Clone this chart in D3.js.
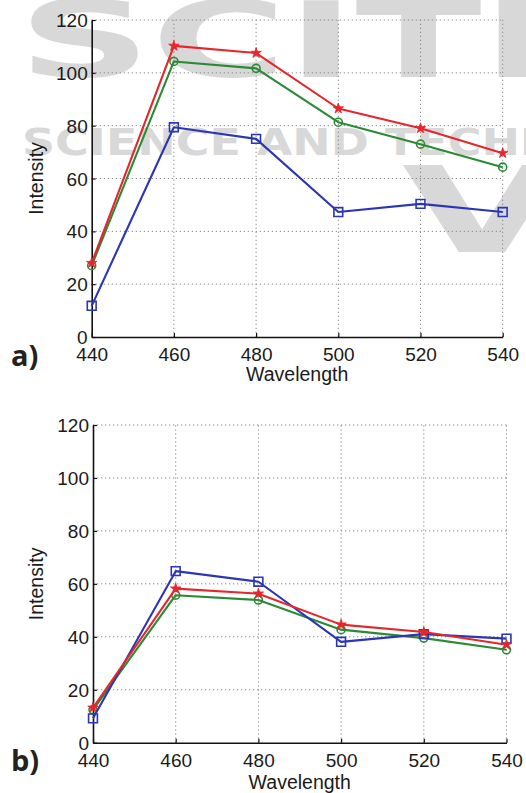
<!DOCTYPE html>
<html>
<head>
<meta charset="utf-8">
<script src="https://cdn.jsdelivr.net/npm/d3@7"></script>
<style>
  html, body { margin: 0; padding: 0; background: #fff; }
  svg { display: block; }
  text { font-family: "Liberation Sans", Arial, sans-serif; }
</style>
</head>
<body>
<div id="chart"></div>
<script>
// Data
const wavelengths = [440, 460, 480, 500, 520, 540];
const xTicks = [440, 460, 480, 500, 520, 540];
const yTicks = [0, 20, 40, 60, 80, 100, 120];

// panel a
const redA   = [28, 110.2, 107.5, 86.5, 79, 69.6];
const greenA = [27, 104.3, 101.7, 81.3, 73, 64.3];
const blueA  = [11.8, 79.4, 75, 47.3, 50.4, 47.3];

// panel b
const redB   = [13.2, 58.2, 56.3, 44.6, 41.8, 37];
const greenB = [12.4, 55.7, 53.9, 42.7, 39.5, 35.1];
const blueB  = [9.2, 64.8, 60.8, 38.1, 41, 39.3];

const colors = { red: "#e5262c", green: "#2b8a34", blue: "#2a36b4" };

const W = 526, H = 793;

const svg = d3.select("#chart")
    .append("svg")
    .attr("width", W)
    .attr("height", H);

// Watermark behind the top panel
const wm = svg.append("g").attr("fill", "#d8d8d8");
wm.append("text")
    .attr("x", 18).attr("y", 77)
    .attr("textLength", 590).attr("lengthAdjust", "spacingAndGlyphs")
    .style("font-family", "DejaVu Sans").style("font-weight", "bold")
    .style("font-size", "106px")
    .text("SCITE");
wm.append("text")
    .attr("x", 22).attr("y", 155)
    .attr("textLength", 712).attr("lengthAdjust", "spacingAndGlyphs")
    .style("font-family", "DejaVu Sans").style("font-weight", "bold")
    .style("font-size", "37px")
    .text("SCIENCE AND TECHNOLOGY");
wm.append("text")
    .attr("x", 402).attr("y", 252)
    .attr("textLength", 160).attr("lengthAdjust", "spacingAndGlyphs")
    .style("font-family", "DejaVu Sans").style("font-weight", "bold")
    .style("font-size", "120px")
    .text("V");

// Draw one panel
function drawPanel(cfg) {
    const x = d3.scaleLinear().domain([440, 540]).range([cfg.left, cfg.right]);
    const y = d3.scaleLinear().domain([0, 120]).range([cfg.bottom, cfg.top]);

    const g = svg.append("g");

    // grid
    g.append("g")
        .selectAll("line")
        .data(xTicks.slice(1))
        .join("line")
        .attr("x1", d => x(d)).attr("x2", d => x(d))
        .attr("y1", y(0)).attr("y2", y(120))
        .attr("stroke", "#8a8a8a").attr("stroke-width", 1)
        .attr("stroke-dasharray", "1.3,2.7");
    g.append("g")
        .selectAll("line")
        .data(yTicks.slice(1))
        .join("line")
        .attr("x1", x(440)).attr("x2", x(540))
        .attr("y1", d => y(d)).attr("y2", d => y(d))
        .attr("stroke", "#8a8a8a").attr("stroke-width", 1)
        .attr("stroke-dasharray", "1.3,2.7");

    // axes (inward ticks)
    const xAxis = g.append("g")
        .attr("transform", `translate(0,${y(0)})`)
        .call(d3.axisBottom(x).tickValues(xTicks).tickSize(-4).tickPadding(10).tickSizeOuter(0));
    const yAxis = g.append("g")
        .attr("transform", `translate(${x(440)},0)`)
        .call(d3.axisLeft(y).tickValues(yTicks).tickSize(-4).tickPadding(4).tickSizeOuter(0));

    [xAxis, yAxis].forEach(a => {
        a.select(".domain").attr("stroke", "#111").attr("stroke-width", 1.6);
        a.selectAll(".tick line").attr("stroke", "#111").attr("stroke-width", 1.2);
        a.selectAll(".tick text")
            .attr("fill", "#1a1a1a")
            .style("font-family", "Liberation Sans, Arial, sans-serif")
            .style("font-size", "19px");
    });
    xAxis.selectAll(".tick text").attr("dy", null).attr("y", 24);
    yAxis.selectAll(".tick text").attr("dy", "0.35em");

    // axis labels
    g.append("text")
        .attr("x", (x(440) + x(540)) / 2)
        .attr("y", y(0) + cfg.xLabelOffset)
        .attr("text-anchor", "middle")
        .attr("fill", "#1a1a1a")
        .style("font-size", "19.5px")
        .text("Wavelength");
    g.append("text")
        .attr("transform", `translate(43,${(y(0) + y(120)) / 2}) rotate(-90)`)
        .attr("text-anchor", "middle")
        .attr("fill", "#1a1a1a")
        .style("font-size", "19.5px")
        .text("Intensity");

    // panel letter
    g.append("text")
        .attr("x", 11).attr("y", cfg.letterY)
        .attr("fill", "#222")
        .style("font-family", "Open Sans, sans-serif")
        .style("font-weight", "bold")
        .style("font-size", "29px")
        .text(cfg.letter);

    const line = d3.line()
        .x((d, i) => x(wavelengths[i]))
        .y(d => y(d));

    cfg.series.forEach(s => {
        g.append("path")
            .datum(s.values)
            .attr("fill", "none")
            .attr("stroke", s.color)
            .attr("stroke-width", 2.1)
            .attr("stroke-linejoin", "round")
            .attr("d", line);

        const marks = g.append("g")
            .selectAll("path")
            .data(s.values)
            .join("path")
            .attr("transform", (d, i) => `translate(${x(wavelengths[i])},${y(d)})`);

        if (s.marker === "square") {
            marks.attr("d", d3.symbol(d3.symbolSquare, 78)())
                .attr("fill", "none").attr("stroke", s.color).attr("stroke-width", 1.6);
        } else if (s.marker === "circle") {
            marks.attr("d", d3.symbol(d3.symbolCircle, 50)())
                .attr("fill", "none").attr("stroke", s.color).attr("stroke-width", 1.6);
        } else {
            marks.attr("d", d3.symbol(d3.symbolStar, 34)())
                .attr("fill", s.color).attr("stroke", s.color).attr("stroke-width", 0.8);
        }
    });
}

drawPanel({
    left: 91.7, right: 502.7, top: 20, bottom: 337,
    xLabelOffset: 44, letter: "a)", letterY: 366,
    series: [
        { values: blueA, color: colors.blue, marker: "square" },
        { values: greenA, color: colors.green, marker: "circle" },
        { values: redA, color: colors.red, marker: "star" }
    ]
});

drawPanel({
    left: 93, right: 506.5, top: 425, bottom: 742.7,
    xLabelOffset: 46, letter: "b)", letterY: 771,
    series: [
        { values: greenB, color: colors.green, marker: "circle" },
        { values: blueB, color: colors.blue, marker: "square" },
        { values: redB, color: colors.red, marker: "star" }
    ]
});
</script>
</body>
</html>
